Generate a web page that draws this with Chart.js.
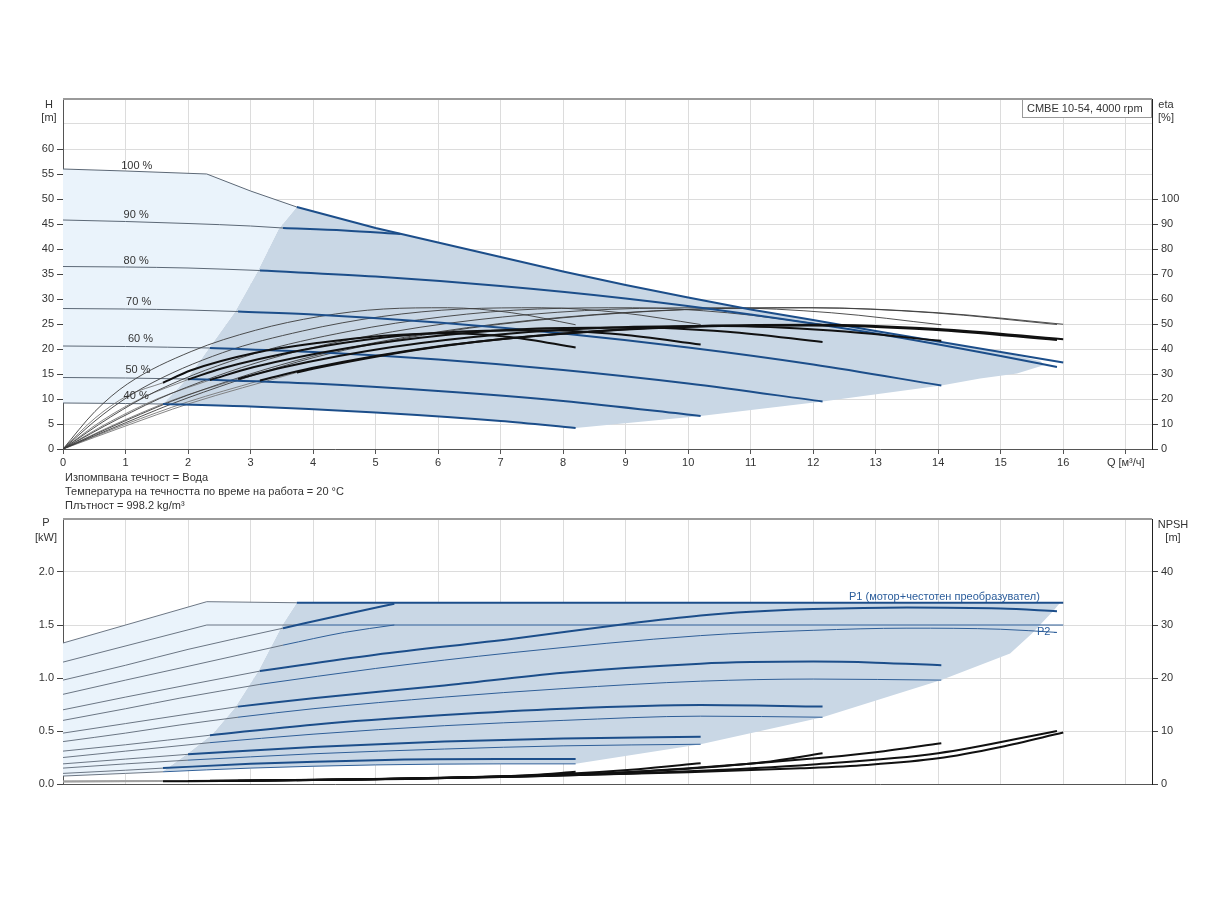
<!DOCTYPE html>
<html>
<head>
<meta charset="utf-8">
<script src="https://cdn.jsdelivr.net/npm/chart.js@4.4.1/dist/chart.umd.min.js"></script>
<style>
  body { margin: 0; background: #fff; width: 1224px; height: 900px; position: relative; overflow: hidden;
         font-family: "Liberation Sans", Arial, sans-serif; }
  canvas { position: absolute; left: 0; }
  #top { top: 60px; }
  #bottom { top: 500px; }
  .note { position: absolute; left: 65px; top: 470px; font-size: 11px; line-height: 14.2px; color: #333; white-space: nowrap; }
</style>
</head>
<body>
<canvas id="top" width="1224" height="420"></canvas>
<div class="note">Изпомпвана течност = Вода<br>Температура на течността по време на работа = 20 °C<br>Плътност = 998.2 kg/m³</div>
<canvas id="bottom" width="1224" height="300"></canvas>
<script>
// speeds, top to bottom
const speeds = ["100 %", "90 %", "80 %", "70 %", "60 %", "50 %", "40 %"];
// flow where each curve enters the operating range
const startQ = [3.74, 3.52, 3.15, 2.8, 2.35, 2.0, 1.6];
const xTicks = [0, 1, 2, 3, 4, 5, 6, 7, 8, 9, 10, 11, 12, 13, 14, 15, 16, 17];

// head H [m]
const h100Q = [0, 1, 2.3, 3.0, 3.74, 5, 6, 7, 8, 9, 10, 11, 12, 13, 14, 15, 16];
const h100H = [56, 55.6, 55, 51.6, 48.4, 44.2, 41.3, 38.4, 35.5, 32.8, 30.3, 27.9, 25.8, 23.6, 21.5, 19.4, 17.3];
const h90Q = [0, 1, 2, 3, 3.52, 4.5, 5.4];
const h90H = [45.8, 45.5, 45.1, 44.6, 44.2, 43.7, 43.0];
const h80Q = [0, 1, 2, 3.15, 5, 7, 9, 11, 13, 15, 15.9];
const h80H = [36.5, 36.4, 36.2, 35.7, 34.5, 32.6, 30.1, 26.9, 23.1, 18.6, 16.4];
const h70Q = [0, 1, 2, 2.8, 4, 6, 8, 10, 12, 14.05];
const h70H = [28.1, 28.0, 27.8, 27.5, 26.9, 25.3, 23.1, 20.3, 16.9, 12.7];
const h60Q = [0, 1, 2.35, 4, 6, 8, 10, 12.15];
const h60H = [20.6, 20.5, 20.2, 19.4, 17.9, 15.8, 13.1, 9.5];
const h50Q = [0, 1, 2, 4, 6, 8, 10.2];
const h50H = [14.3, 14.2, 14.0, 13.1, 11.6, 9.6, 6.6];
const h40Q = [0, 1, 1.6, 3, 5, 7, 8.2];
const h40H = [9.2, 9.1, 9.0, 8.5, 7.3, 5.6, 4.2];

// pump efficiency [%] (thin)
const eA100Q = [0, 1, 2, 4, 6, 8, 10, 12, 14, 16];
const eA100 = [0, 10.5, 20.5, 36.5, 46.5, 52.5, 55.8, 56.5, 54.5, 49.9];
const eA80Q = [0, 0.99, 1.99, 3.98, 5.96, 7.95, 9.94, 11.93, 13.91, 15.9];
const eA80 = [0, 11.2, 21.5, 37, 46.7, 52.6, 55.8, 56.5, 54.5, 49.8];
const eA70Q = [0, 0.88, 1.76, 3.51, 5.27, 7.03, 8.78, 10.54, 12.29, 14.05];
const eA70 = [0, 12, 22.5, 37.5, 46.9, 52.8, 55.9, 56.5, 54.5, 49.7];
const eA60Q = [0, 0.76, 1.52, 3.04, 4.56, 6.08, 7.59, 9.11, 10.63, 12.15];
const eA60 = [0, 12.8, 23.5, 38, 47, 52.9, 56, 56.5, 54.5, 49.8];
const eA50Q = [0, 0.64, 1.28, 2.55, 3.83, 5.1, 6.38, 7.65, 8.93, 10.2];
const eA50 = [0, 13.8, 24.5, 38.5, 47.2, 53, 56, 56.5, 54.5, 49.8];
const eA40Q = [0, 0.51, 1.03, 2.05, 3.08, 4.1, 5.13, 6.15, 7.18, 8.2];
const eA40 = [0, 15, 26, 39, 47.5, 53, 56, 56.5, 54.5, 49.7];

// total efficiency [%] (thick)
const eB100Q = [0, 1, 2, 3.74, 4, 6, 8, 10, 12, 14, 16];
const eB100 = [0, 9.2, 18.0, 30.6, 32.1, 40.9, 46.2, 49.1, 49.7, 48.0, 43.9];
const eB80Q = [0, 0.99, 1.99, 3.15, 3.98, 5.96, 7.95, 9.94, 11.93, 13.91, 15.9];
const eB80 = [0, 9.8, 18.8, 27.4, 32.4, 40.9, 46.0, 48.8, 49.4, 47.7, 43.6];
const eB70Q = [0, 0.88, 1.76, 2.8, 3.51, 5.27, 7.03, 8.78, 10.54, 12.29, 14.05];
const eB70 = [0, 10.4, 19.6, 28.0, 32.6, 40.8, 45.9, 48.6, 49.2, 47.4, 43.3];
const eB60Q = [0, 0.76, 1.52, 2.35, 3.04, 4.56, 6.08, 7.59, 9.11, 10.63, 12.15];
const eB60 = [0, 11.0, 20.2, 27.6, 32.7, 40.4, 45.5, 48.2, 48.6, 46.9, 42.8];
const eB50Q = [0, 0.64, 1.28, 2.0, 2.55, 3.83, 5.1, 6.38, 7.65, 8.93, 10.2];
const eB50 = [0, 11.6, 20.6, 27.8, 32.3, 39.6, 44.5, 47.0, 47.5, 45.8, 41.8];
const eB40Q = [0, 0.51, 1.03, 1.6, 2.05, 3.08, 4.1, 5.13, 6.15, 7.18, 8.2];
const eB40 = [0, 12.3, 21.3, 26.5, 31.5, 38.5, 42.5, 45.3, 46.3, 44.7, 40.6];

// operating ranges, head chart
const lightTopQ = [0, 2.3, 3.0, 3.74, 3.45, 3.1, 2.75, 2.35, 2.0, 1.6, 1, 0];
const lightTopH = [56, 55, 51.6, 48.4, 44, 35.2, 27.4, 20.4, 14.3, 9.0, 9.1, 9.2];
const darkTopQ = [1.6, 2.0, 2.35, 2.75, 3.1, 3.45, 3.74, 5, 6, 7, 8, 9, 10, 11, 12, 13, 14, 15, 15.63, 15.7, 15.26, 14.67, 14.05, 12.15, 10.2, 8.2, 7, 5, 3];
const darkTopH = [9.0, 14.3, 20.4, 27.4, 35.2, 44, 48.4, 44.2, 41.3, 38.4, 35.5, 32.8, 30.3, 27.9, 25.8, 23.6, 21.5, 19.4, 17.6, 16.8, 15.1, 14.1, 12.7, 9.5, 6.6, 4.2, 5.6, 7.3, 8.5];

// power P1 [kW]
const p1_100Q = [0, 2.3, 3.74, 16];
const p1_100 = [1.33, 1.72, 1.71, 1.71];
const p1_90Q = [0, 1, 2, 3.52, 4.5, 5.3];
const p1_90 = [0.98, 1.12, 1.27, 1.47, 1.60, 1.70];
const p1_80Q = [0, 1, 2, 3.15, 5, 7.2, 9, 10.2, 11, 12, 13.5, 15, 15.9];
const p1_80 = [0.70, 0.82, 0.935, 1.065, 1.22, 1.37, 1.51, 1.59, 1.625, 1.65, 1.665, 1.655, 1.63];
const p1_70Q = [0, 1, 2, 2.8, 4, 6.1, 8, 10.2, 11, 12, 13, 14.05];
const p1_70 = [0.48, 0.57, 0.66, 0.73, 0.81, 0.93, 1.05, 1.135, 1.15, 1.155, 1.145, 1.12];
const p1_60Q = [0, 1, 2.35, 4, 6.1, 8, 10.2, 12.15];
const p1_60 = [0.31, 0.37, 0.46, 0.56, 0.65, 0.71, 0.745, 0.73];
const p1_50Q = [0, 1, 2, 4, 6.1, 8, 10.2];
const p1_50 = [0.19, 0.235, 0.28, 0.35, 0.40, 0.43, 0.445];
const p1_40Q = [0, 1, 1.6, 3, 5, 7, 8.2];
const p1_40 = [0.10, 0.13, 0.15, 0.19, 0.225, 0.235, 0.235];

// power P2 [kW]
const p2_100Q = [0, 2.3, 3.74, 16];
const p2_100 = [1.15, 1.5, 1.5, 1.5];
const p2_90Q = [0, 1, 2, 3.52, 4.5, 5.3];
const p2_90 = [0.846, 0.98, 1.11, 1.31, 1.43, 1.5];
const p2_80Q = [0, 1, 1.87, 3.15, 5, 7.2, 10.2, 12, 13.5, 15, 15.9];
const p2_80 = [0.60, 0.71, 0.81, 0.94, 1.09, 1.24, 1.40, 1.45, 1.47, 1.46, 1.43];
const p2_70Q = [0, 1, 1.87, 2.8, 4, 6.1, 8, 10.2, 12, 14.05];
const p2_70 = [0.40, 0.48, 0.557, 0.63, 0.71, 0.82, 0.90, 0.97, 0.99, 0.98];
const p2_60Q = [0, 1, 2.35, 4, 6.1, 8, 10.2, 12.15];
const p2_60 = [0.25, 0.31, 0.39, 0.47, 0.55, 0.60, 0.64, 0.63];
const p2_50Q = [0, 1, 2, 4, 6.1, 8, 10.2];
const p2_50 = [0.15, 0.19, 0.225, 0.285, 0.33, 0.36, 0.375];
const p2_40Q = [0, 1, 1.6, 3, 5, 7, 8.2];
const p2_40 = [0.075, 0.10, 0.115, 0.15, 0.18, 0.19, 0.19];

// NPSH [m]
const n100Q = [0, 3.74, 7, 10, 11.8, 12.86, 14, 15, 16];
const n100 = [0.5, 0.7, 1.3, 2.2, 2.96, 3.6, 4.85, 7.0, 9.7];
const n80Q = [0, 3.15, 7, 10, 12, 14, 15.9];
const n80 = [0.5, 0.65, 1.3, 2.4, 3.7, 5.8, 10.0];
const n70Q = [0, 2.8, 6, 9, 11.8, 13, 14.05];
const n70 = [0.5, 0.6, 1.1, 2.2, 4.6, 6.0, 7.7];
const n60Q = [0, 2.35, 5, 8, 10, 11.2, 12.15];
const n60 = [0.5, 0.6, 0.9, 1.7, 2.9, 4.1, 5.8];
const n50Q = [0, 2, 4, 6, 8, 9.2, 10.2];
const n50 = [0.45, 0.55, 0.75, 1.1, 1.9, 2.8, 3.9];
const n40Q = [0, 1.6, 3, 5, 6.5, 7.5, 8.2];
const n40 = [0.4, 0.5, 0.6, 0.9, 1.3, 1.7, 2.3];

// operating ranges, power chart
const lightBotQ = [0, 2.3, 3.74, 3.51, 3.13, 2.75, 2.39, 2.0, 1.6, 1, 0];
const lightBotP = [1.33, 1.72, 1.71, 1.50, 1.07, 0.72, 0.47, 0.29, 0.12, 0.10, 0.075];
const darkBotQ = [1.6, 2.0, 2.39, 2.75, 3.13, 3.51, 3.74, 15.95, 15.85, 15.5, 15.15, 14.05, 12.15, 10.2, 8.2, 7, 5, 3];
const darkBotP = [0.12, 0.29, 0.47, 0.72, 1.07, 1.50, 1.71, 1.71, 1.64, 1.42, 1.23, 0.98, 0.63, 0.375, 0.19, 0.19, 0.18, 0.15];

// ---------------------------------------------------------------
const FONT = '11px "Liberation Sans", Arial, sans-serif';
const BLUE = "#1c4e8a";
const THIN = "#5c6876";
const LIGHT = "#eaf3fb";
const DARK = "#c9d7e5";
const GRID = "#dcdcdc";

Chart.defaults.font.family = '"Liberation Sans", Arial, sans-serif';
Chart.defaults.font.size = 11;
Chart.defaults.color = "#333";

function pts(qs, vs) {
    return qs.map((q, i) => ({ x: q, y: vs[i] }));
}
function upTo(qs, vs, q0) {
    return pts(qs, vs).filter(p => p.x <= q0);
}
function from(qs, vs, q0) {
    return pts(qs, vs).filter(p => p.x >= q0);
}
function line(data, color, width, axis, order, straight) {
    return {
        data: data,
        borderColor: color,
        borderWidth: width,
        yAxisID: axis,
        order: order,
        pointRadius: 0,
        fill: false,
        tension: 0,
        cubicInterpolationMode: straight ? "default" : "monotone",
    };
}
function area(data, color, axis) {
    return {
        data: data,
        borderColor: "rgba(0,0,0,0)",
        backgroundColor: color,
        borderWidth: 1,
        yAxisID: axis,
        order: 20,
        pointRadius: 0,
        fill: "shape",
        tension: 0,
    };
}

// head chart datasets
const headQ = [h100Q, h90Q, h80Q, h70Q, h60Q, h50Q, h40Q];
const headH = [h100H, h90H, h80H, h70H, h60H, h50H, h40H];
// [pump Q, pump eta, total Q, total eta, speed index]
const etaSets = [
    [eA100Q, eA100, eB100Q, eB100, 0],
    [eA80Q, eA80, eB80Q, eB80, 2],
    [eA70Q, eA70, eB70Q, eB70, 3],
    [eA60Q, eA60, eB60Q, eB60, 4],
    [eA50Q, eA50, eB50Q, eB50, 5],
    [eA40Q, eA40, eB40Q, eB40, 6],
];

const topSets = [
    area(pts(lightTopQ, lightTopH), LIGHT, "y"),
    area(pts(darkTopQ, darkTopH), DARK, "y"),
];
headQ.forEach((qs, i) => {
    topSets.push(line(upTo(qs, headH[i], startQ[i]), THIN, 1, "y", 8, i === 0));
    topSets.push(line(from(qs, headH[i], startQ[i]), BLUE, 2, "y", 2, i === 0));
});
etaSets.forEach(([aq, av, bq, bv, s]) => {
    topSets.push(line(pts(aq, av), "#3c3c3c", 0.9, "yEta", 6));
    topSets.push(line(upTo(bq, bv, startQ[s]), "#777", 0.9, "yEta", 7));
    topSets.push(line(from(bq, bv, startQ[s]), "#111", 2, "yEta", 1));
});

// power chart datasets
const p1Q = [p1_100Q, p1_90Q, p1_80Q, p1_70Q, p1_60Q, p1_50Q, p1_40Q];
const p1V = [p1_100, p1_90, p1_80, p1_70, p1_60, p1_50, p1_40];
const p2Q = [p2_100Q, p2_90Q, p2_80Q, p2_70Q, p2_60Q, p2_50Q, p2_40Q];
const p2V = [p2_100, p2_90, p2_80, p2_70, p2_60, p2_50, p2_40];
const npshSets = [[n100Q, n100, 0], [n80Q, n80, 2], [n70Q, n70, 3], [n60Q, n60, 4], [n50Q, n50, 5], [n40Q, n40, 6]];

const botSets = [
    area(pts(lightBotQ, lightBotP), LIGHT, "y"),
    area(pts(darkBotQ, darkBotP), DARK, "y"),
];
speeds.forEach((s, i) => {
    const straight = i === 0;
    botSets.push(line(upTo(p1Q[i], p1V[i], startQ[i]), THIN, 0.9, "y", 8, straight));
    botSets.push(line(from(p1Q[i], p1V[i], startQ[i]), BLUE, 2, "y", 2, straight));
    botSets.push(line(upTo(p2Q[i], p2V[i], startQ[i]), THIN, 0.9, "y", 8, straight));
    botSets.push(line(from(p2Q[i], p2V[i], startQ[i]), "#2f5f98", 1, "y", 4, straight));
});
npshSets.forEach(([q, v, s]) => {
    botSets.push(line(upTo(q, v, startQ[s]), "#a0a0a0", 1.2, "yN", 9));
    botSets.push(line(from(q, v, startQ[s]), "#111", 2, "yN", 3));
});

// frame, axis titles and text annotations
const decor = {
    id: "decor",
    afterDraw(chart, args, o) {
        const { ctx, chartArea: a, scales } = chart;
        ctx.save();
        ctx.strokeStyle = "#9a9a9a";
        ctx.lineWidth = 2;
        ctx.beginPath();
        ctx.moveTo(a.left, a.top);
        ctx.lineTo(a.right, a.top);
        ctx.stroke();
        ctx.font = FONT;
        ctx.textBaseline = "middle";
        ctx.textAlign = "center";
        ctx.fillStyle = "#333";
        o.titles.forEach(t => {
            const x = t.side === "left" ? a.left + t.dx : a.right + t.dx;
            ctx.fillText(t.text, x, a.top + t.dy);
        });
        o.notes.forEach(n => {
            ctx.fillStyle = n.color || "#333";
            ctx.textAlign = n.align || "center";
            ctx.fillText(n.text, scales.x.getPixelForValue(n.q), scales[n.axis].getPixelForValue(n.v));
        });
        if (o.box) {
            ctx.fillStyle = "#fff";
            ctx.fillRect(a.right - 130, a.top, 130, 19);
            ctx.strokeStyle = "#999";
            ctx.lineWidth = 1;
            ctx.strokeRect(a.right - 129.5, a.top + 0.5, 129, 18);
            ctx.fillStyle = "#333";
            ctx.textAlign = "left";
            ctx.fillText(o.box, a.right - 125, a.top + 9.5);
        }
        ctx.restore();
    },
};

function xScale(showLabels, height) {
    return {
        type: "linear",
        min: 0,
        max: 17.42,
        afterBuildTicks: s => { s.ticks = xTicks.map(v => ({ value: v })); },
        afterFit: s => { s.height = height; },
        border: { color: "#555" },
        grid: { color: GRID, tickLength: 5, tickColor: "#555", drawTicks: showLabels },
        ticks: {
            display: showLabels,
            autoSkip: false,
            maxRotation: 0,
            padding: 2,
            callback: v => (v === 17 ? "Q [м³/ч]" : v),
        },
    };
}
function yScale(pos, max, step, lastLabel, fmt, onArea) {
    return {
        type: "linear",
        position: pos,
        min: 0,
        max: max,
        afterFit: s => { s.width = pos === "left" ? 63 : 72; },
        border: { color: pos === "left" ? "#555" : "#222" },
        grid: {
            color: GRID,
            drawOnChartArea: onArea,
            tickLength: 6,
            tickColor: c => (c.tick && c.tick.value > lastLabel + 1e-9 ? "rgba(0,0,0,0)" : "#444"),
        },
        ticks: {
            stepSize: step,
            padding: 3,
            callback: v => (v > lastLabel + 1e-9 ? "" : fmt(v)),
        },
    };
}

const labelSpots = [[1.18, 56.7], [1.17, 46.8], [1.17, 37.7], [1.21, 29.4], [1.24, 22.1], [1.2, 15.8], [1.17, 10.6]];

new Chart(document.getElementById("top"), {
    type: "line",
    data: { datasets: topSets },
    plugins: [decor],
    options: {
        responsive: false,
        animation: false,
        events: [],
        layout: { padding: { top: 39, bottom: 0, left: 0, right: 0 } },
        scales: {
            x: xScale(true, 31),
            y: yScale("left", 70, 5, 60, v => v, true),
            yEta: yScale("right", 140, 10, 100, v => v, false),
        },
        plugins: {
            legend: { display: false },
            tooltip: { enabled: false },
            decor: {
                titles: [
                    { side: "left", dx: -14, dy: 6, text: "H" },
                    { side: "left", dx: -14, dy: 19, text: "[m]" },
                    { side: "right", dx: 14, dy: 6, text: "eta" },
                    { side: "right", dx: 14, dy: 19, text: "[%]" },
                ],
                notes: speeds.map((s, i) => ({ q: labelSpots[i][0], v: labelSpots[i][1], axis: "y", text: s })),
                box: "CMBE 10-54, 4000 rpm",
            },
        },
    },
});

new Chart(document.getElementById("bottom"), {
    type: "line",
    data: { datasets: botSets },
    plugins: [decor],
    options: {
        responsive: false,
        animation: false,
        events: [],
        layout: { padding: { top: 19, bottom: 0, left: 0, right: 0 } },
        scales: {
            x: xScale(false, 16),
            y: yScale("left", 2.5, 0.5, 2.0, v => v.toFixed(1), true),
            yN: yScale("right", 50, 10, 40, v => v, false),
        },
        plugins: {
            legend: { display: false },
            tooltip: { enabled: false },
            decor: {
                titles: [
                    { side: "left", dx: -17, dy: 4, text: "P" },
                    { side: "left", dx: -17, dy: 18.5, text: "[kW]" },
                    { side: "right", dx: 21, dy: 6, text: "NPSH" },
                    { side: "right", dx: 21, dy: 19, text: "[m]" },
                ],
                notes: [
                    { q: 14.1, v: 1.767, axis: "y", text: "P1 (мотор+честотен преобразувател)", color: "#2b5d9b" },
                    { q: 15.58, v: 1.43, axis: "y", text: "P2 -", color: "#2b5d9b", align: "left" },
                ],
            },
        },
    },
});
</script>
</body>
</html>
